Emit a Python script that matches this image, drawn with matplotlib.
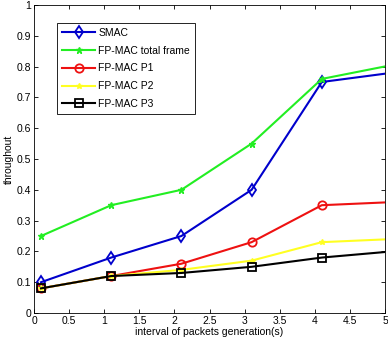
import matplotlib
matplotlib.use("Agg")
import matplotlib.pyplot as plt

x = [0.1, 1.1, 2.1, 3.1, 4.1, 5.1]
smac = [0.10, 0.18, 0.25, 0.40, 0.75, 0.78]
fp_total = [0.25, 0.35, 0.40, 0.55, 0.76, 0.805]
fp_p1 = [0.08, 0.12, 0.16, 0.23, 0.35, 0.36]
fp_p2 = [0.08, 0.12, 0.14, 0.17, 0.23, 0.24]
fp_p3 = [0.08, 0.12, 0.13, 0.15, 0.18, 0.20]

plt.rcParams['font.family'] = ['Liberation Sans', 'DejaVu Sans']
plt.rcParams['font.size'] = 7.5

fig = plt.figure(figsize=(3.88, 3.46), dpi=100)
ax = fig.add_axes([34/388, 1 - 313/346, 351/388, 308/346])

ax.plot(x, smac, color='#0000cc', lw=1.5, marker='d', ms=6, mfc='none', mew=1.3, label='SMAC')
ax.plot(x, fp_total, color='#22ee22', lw=1.5, marker='*', ms=5, label='FP-MAC total frame')
ax.plot(x, fp_p1, color='#ee1111', lw=1.5, marker='o', ms=6, mfc='none', mew=1.3, label='FP-MAC P1')
ax.plot(x, fp_p2, color='#ffff22', lw=1.5, marker='*', ms=4, label='FP-MAC P2')
ax.plot(x, fp_p3, color='black', lw=1.5, marker='s', ms=6, mfc='none', mew=1.3, label='FP-MAC P3')

ax.set_xlim(0, 5)
ax.set_ylim(0, 1)
ax.set_xticks([0, 0.5, 1, 1.5, 2, 2.5, 3, 3.5, 4, 4.5, 5])
ax.set_xticklabels(['0', '0.5', '1', '1.5', '2', '2.5', '3', '3.5', '4', '4.5', '5'])
ax.set_yticks([i / 10 for i in range(11)])
ax.set_yticklabels(['0', '0.1', '0.2', '0.3', '0.4', '0.5', '0.6', '0.7', '0.8', '0.9', '1'])
ax.tick_params(direction='in', top=True, right=True, length=3, width=0.6, pad=2)
for s in ax.spines.values():
    s.set_linewidth(0.6)

ax.set_xlabel('interval of packets generation(s)', labelpad=1)
ax.set_ylabel('throughout', labelpad=2)

leg = ax.legend(loc='upper left', bbox_to_anchor=(0.05, 0.96), fancybox=False,
                edgecolor='black', framealpha=1, handlelength=3.2, borderpad=0.5,
                labelspacing=0.75, handletextpad=0.3)
leg.get_frame().set_linewidth(0.6)

fig.savefig('out.png', dpi=100)
